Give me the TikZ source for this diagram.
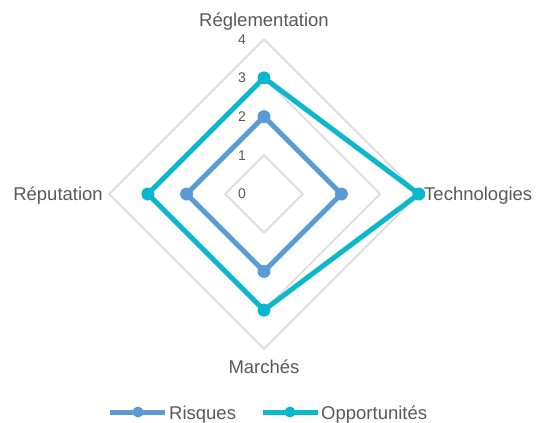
\documentclass[tikz,border=0pt]{standalone}
\usepackage{fontspec}
\setmainfont{Liberation Sans}
\usetikzlibrary{positioning}
\definecolor{risqblue}{RGB}{91,155,213}
\definecolor{opporteal}{RGB}{11,183,204}
\definecolor{gridgrey}{RGB}{217,217,217}
\definecolor{textgrey}{RGB}{89,89,89}
\tikzset{
	gridline/.style={
		draw=gridgrey,
		line width=1.5pt,
	},
	serie/.style={
		line width=5pt,
		line join=round,
	},
	dot/.style={
		circle,
		fill,
		inner sep=0pt,
		minimum size=13pt,
	},
	axlabel/.style={
		text=textgrey,
		inner sep=0pt,
		font={\fontsize{18.5}{20}\selectfont}
	},
	ticklabel/.style={
		text=textgrey,
		inner sep=0pt,
		anchor=east,
		font={\fontsize{14}{16}\selectfont}
	},
}

\begin{document}
\begin{tikzpicture}[x=1pt, y=-1pt]

\useasboundingbox (0,0) rectangle (539,423);
\coordinate (c) at (264,194);
\def\unit{38.7}

% grid
\foreach \r in {1,...,4} {
	\pgfmathsetmacro\rr{\r * \unit}
	\draw[gridline] (c) ++(0,-\rr) -- ++(\rr,\rr) -- ++(-\rr,\rr) -- ++(-\rr,-\rr) -- cycle;
};
\foreach \r in {0,...,4} {
	\pgfmathsetmacro\yy{194 - \r * \unit}
	\node(tick\r)[ticklabel] at (246,\yy) {\r};
};

% axis labels
\node(regl)[axlabel, anchor=base] at (264,27) {Réglementation};
\node(tech)[axlabel, anchor=base west] at (424,200) {Technologies};
\node(marc)[axlabel, anchor=base] at (264,373) {Marchés};
\node(repu)[axlabel, anchor=base east] at (103,200) {Réputation};

% Risques
\coordinate (r1) at (264,116.6);
\coordinate (r2) at (341.4,194);
\coordinate (r3) at (264,271.4);
\coordinate (r4) at (186.6,194);
\draw[serie, risqblue] (r1) -- (r2) -- (r3) -- (r4) -- cycle;
\foreach \p in {r1,r2,r3,r4} \node[dot, risqblue] at (\p) {};

% Opportunites
\coordinate (o1) at (264,77.9);
\coordinate (o2) at (418.8,194);
\coordinate (o3) at (264,310.1);
\coordinate (o4) at (147.9,194);
\draw[serie, opporteal] (o1) -- (o2) -- (o3) -- (o4) -- cycle;
\foreach \p in {o1,o2,o3,o4} \node[dot, opporteal] at (\p) {};

% legend
\coordinate (lr1) at (110,412);
\coordinate (lr2) at (165,412);
\draw[serie, risqblue] (lr1) -- (lr2);
\node(lrdot)[dot, risqblue, minimum size=11pt] at (138,412) {};
\node(lrtxt)[axlabel, anchor=base west] at (169,419) {Risques};

\coordinate (lo1) at (263,412);
\coordinate (lo2) at (318,412);
\draw[serie, opporteal] (lo1) -- (lo2);
\node(lodot)[dot, opporteal, minimum size=11pt] at (290,412) {};
\node(lotxt)[axlabel, anchor=base west] at (321,419) {Opportunités};

\end{tikzpicture}
\end{document}
